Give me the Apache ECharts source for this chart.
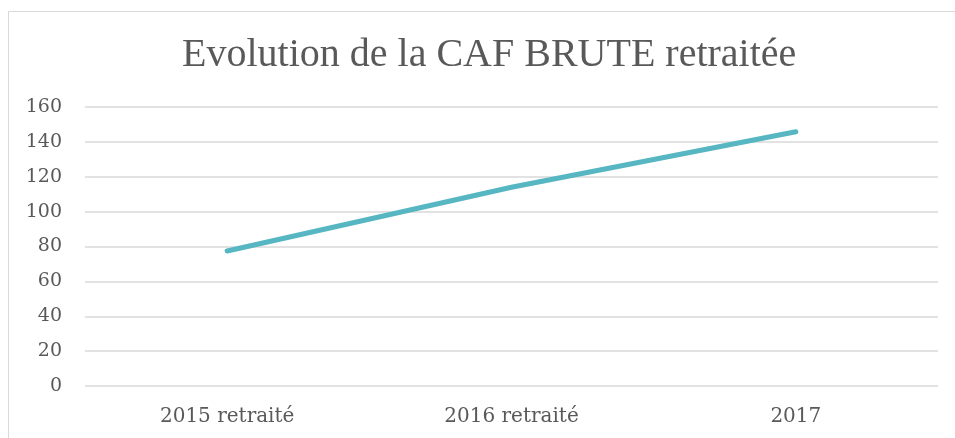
<!DOCTYPE html>
<html lang="fr">

<head>
  <meta charset="UTF-8">
  <title>Evolution de la CAF BRUTE retraitée</title>
  <script src="https://cdn.jsdelivr.net/npm/echarts@6/dist/echarts.min.js"></script>
  <style>
    html,
    body {
      margin: 0;
      padding: 0;
      background: #fff;
    }

    #chart {
      width: 955px;
      height: 438px;
    }
  </style>
</head>

<body>
  <div id="chart"></div>
  <script>
    const categories = ['2015 retraité', '2016 retraité', '2017'];
    const cafValues = [77.4, 114, 145.8];
    const yTicks = { min: 0, max: 160, interval: 20 };

    const labelFont = '"DejaVu Serif", serif';

    const myChart = echarts.init(document.getElementById('chart'));
    const option = {
      animation: false,
      backgroundColor: '#fff',
      graphic: [{
        type: 'rect',
        shape: { x: 8.5, y: 11.5, width: 1000, height: 500 },
        style: { fill: 'none', stroke: '#d9d9d9', lineWidth: 1 },
        silent: true
      }],
      title: {
        text: 'Evolution de la CAF BRUTE retraitée',
        left: 182,
        top: 35,
        padding: 0,
        textStyle: {
          fontFamily: '"Liberation Serif", serif',
          fontWeight: 'normal',
          fontSize: 40,
          color: '#595959'
        }
      },
      grid: {
        left: 85,
        right: 17,
        top: 107,
        bottom: 52
      },
      xAxis: {
        type: 'category',
        data: categories,
        boundaryGap: true,
        axisLine: { show: false },
        axisTick: { show: false },
        axisLabel: {
          margin: 21,
          fontFamily: labelFont,
          fontSize: 20,
          color: '#595959'
        }
      },
      yAxis: {
        type: 'value',
        min: yTicks.min,
        max: yTicks.max,
        interval: yTicks.interval,
        axisLine: { show: false },
        axisTick: { show: false },
        axisLabel: {
          margin: 23,
          fontFamily: labelFont,
          fontSize: 19,
          color: '#595959'
        },
        splitLine: {
          lineStyle: { color: '#d9d9d9', width: 1.5 }
        }
      },
      series: [{
        name: 'CAF BRUTE retraitée',
        type: 'line',
        data: cafValues,
        symbol: 'none',
        lineStyle: {
          color: '#56b6c2',
          width: 5,
          cap: 'round',
          join: 'round'
        }
      }]
    };
    myChart.setOption(option);
  </script>
</body>

</html>
